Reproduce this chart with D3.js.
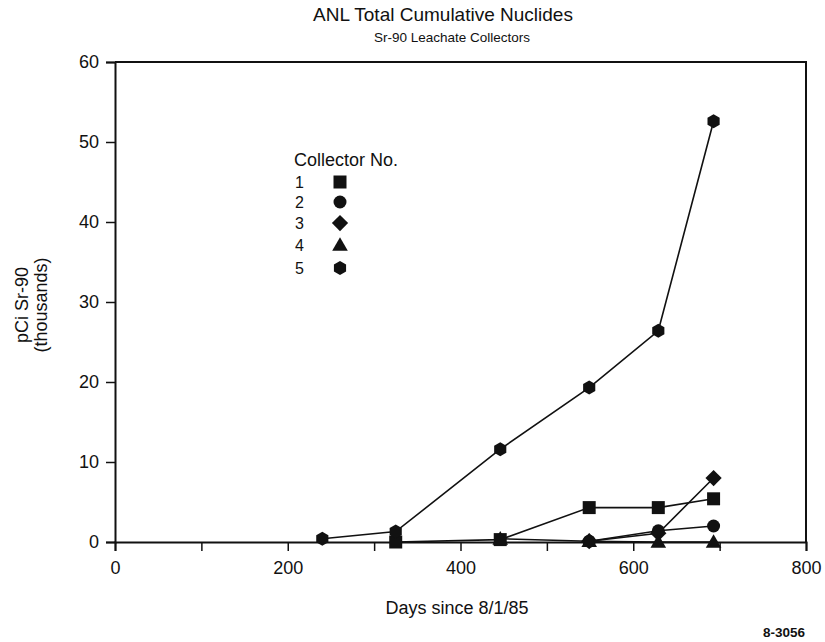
<!DOCTYPE html>
<html><head><meta charset="utf-8">
<script src="https://cdn.jsdelivr.net/npm/d3@7"></script>
<style>body{margin:0;background:#fff}svg{display:block}text{font-family:"Liberation Sans",Arial,sans-serif;fill:#111}</style>
</head><body><svg id="c" width="825" height="642"></svg>
<script>
const collectors = ["1","2","3","4","5"];
const markerShapes = ["square","circle","diamond","triangle","hexagon"];
const s1Days = [325, 446, 549, 629, 693];
const s1Vals = [0, 0.3, 4.3, 4.3, 5.4];
const s2Days = [549, 629, 693];
const s2Vals = [0.1, 1.4, 2.0];
const s3Days = [549, 629, 693];
const s3Vals = [0.1, 1.1, 8.0];
const s4Days = [446, 549, 629, 693];
const s4Vals = [0.4, 0.1, 0.0, 0.0];
const s5Days = [240, 325, 446, 549, 629, 693];
const s5Vals = [0.4, 1.3, 11.6, 19.3, 26.4, 52.6];
const xTicks = [0,100,200,300,400,500,600,700,800];
const xTickLabels = ["0","","200","","400","","600","","800"];
const yTicks = [0,10,20,30,40,50,60];

const series = [
  {days:s1Days, vals:s1Vals, shape:markerShapes[0]},
  {days:s2Days, vals:s2Vals, shape:markerShapes[1]},
  {days:s3Days, vals:s3Vals, shape:markerShapes[2]},
  {days:s4Days, vals:s4Vals, shape:markerShapes[3]},
  {days:s5Days, vals:s5Vals, shape:markerShapes[4]}
];

const svg = d3.select("#c");
const m = {l:115, r:806, t:62, b:542};
const x = d3.scaleLinear().domain([0,800]).range([m.l, m.r]);
const y = d3.scaleLinear().domain([0,60]).range([m.b, m.t]);
const FF = "Liberation Sans, Arial, sans-serif";

function markerPath(shape, s) {
  const h = s/2;
  if (shape === "square") return `M${-h},${-h}H${h}V${h}H${-h}Z`;
  if (shape === "circle") return d3.symbol(d3.symbolCircle, Math.PI*h*h)();
  if (shape === "diamond") { const d = h*1.25; return `M0,${-d}L${d},0L0,${d}L${-d},0Z`; }
  if (shape === "triangle") { const d = h*1.2; return `M0,${-d}L${d},${d*0.75}L${-d},${d*0.75}Z`; }
  if (shape === "hexagon") { const pts = d3.range(6).map(i => { const a = Math.PI/3*i + Math.PI/6; return [h*1.08*Math.cos(a), h*1.08*Math.sin(a)]; }); return "M" + pts.join("L") + "Z"; }
}

// title
svg.append("text").attr("x",443).attr("y",21).attr("text-anchor","middle").attr("font-size",19).text("ANL Total Cumulative Nuclides");
svg.append("text").attr("x",452).attr("y",42).attr("text-anchor","middle").attr("font-size",13.5).text("Sr-90 Leachate Collectors");

// frame top/right
svg.append("path").attr("d",`M${m.l},${m.t}H${m.r}V${m.b}`).attr("fill","none").attr("stroke","#111").attr("stroke-width",2);

// axes
const xAxis = d3.axisBottom(x).tickValues(xTicks).tickFormat((d,i)=>xTickLabels[i]).tickSize(9).tickPadding(10);
const gx = svg.append("g").attr("transform",`translate(0,${m.b})`).call(xAxis);
gx.select(".domain").attr("stroke","#111").attr("stroke-width",2);
gx.selectAll(".tick line").attr("stroke","#111").attr("stroke-width",1.5);
gx.selectAll("text").attr("font-size",18).attr("fill","#111").style("font-family",FF);

const yAxis = d3.axisLeft(y).tickValues(yTicks).tickSize(9).tickPadding(7);
const gy = svg.append("g").attr("transform",`translate(${m.l},0)`).call(yAxis);
gy.select(".domain").attr("stroke","#111").attr("stroke-width",2);
gy.selectAll(".tick line").attr("stroke","#111").attr("stroke-width",1.5);
gy.selectAll("text").attr("font-size",18).attr("fill","#111").style("font-family",FF);

// axis labels
svg.append("text").attr("transform","translate(28,305) rotate(-90)").attr("text-anchor","middle").attr("font-size",18).text("pCi Sr-90");
svg.append("text").attr("transform","translate(47,305) rotate(-90)").attr("text-anchor","middle").attr("font-size",18).text("(thousands)");
svg.append("text").attr("x",457).attr("y",614).attr("text-anchor","middle").attr("font-size",18).text("Days since 8/1/85");
svg.append("text").attr("x",805).attr("y",637).attr("text-anchor","end").attr("font-size",13.5).attr("font-weight","bold").text("8-3056");

// lines
const line = d3.line().x(d=>x(d[0])).y(d=>y(d[1]));
series.forEach(s => {
  const pts = s.days.map((d,i)=>[d, s.vals[i]]);
  svg.append("path").attr("d", line(pts)).attr("fill","none").attr("stroke","#111").attr("stroke-width",1.6);
});
series.forEach(s => {
  s.days.forEach((d,i) => {
    svg.append("path").attr("d", markerPath(s.shape, 13)).attr("transform",`translate(${x(d)},${y(s.vals[i])})`).attr("fill","#111");
  });
});

// legend
svg.append("text").attr("x",294).attr("y",166).attr("font-size",18).text("Collector No.");
const ly = [182, 202, 223, 245, 268];
collectors.forEach((c,i) => {
  svg.append("text").attr("x",295).attr("y",ly[i]+6).attr("font-size",16).text(c);
  svg.append("path").attr("d", markerPath(markerShapes[i], 13)).attr("transform",`translate(340,${ly[i]})`).attr("fill","#111");
});
</script></body></html>
